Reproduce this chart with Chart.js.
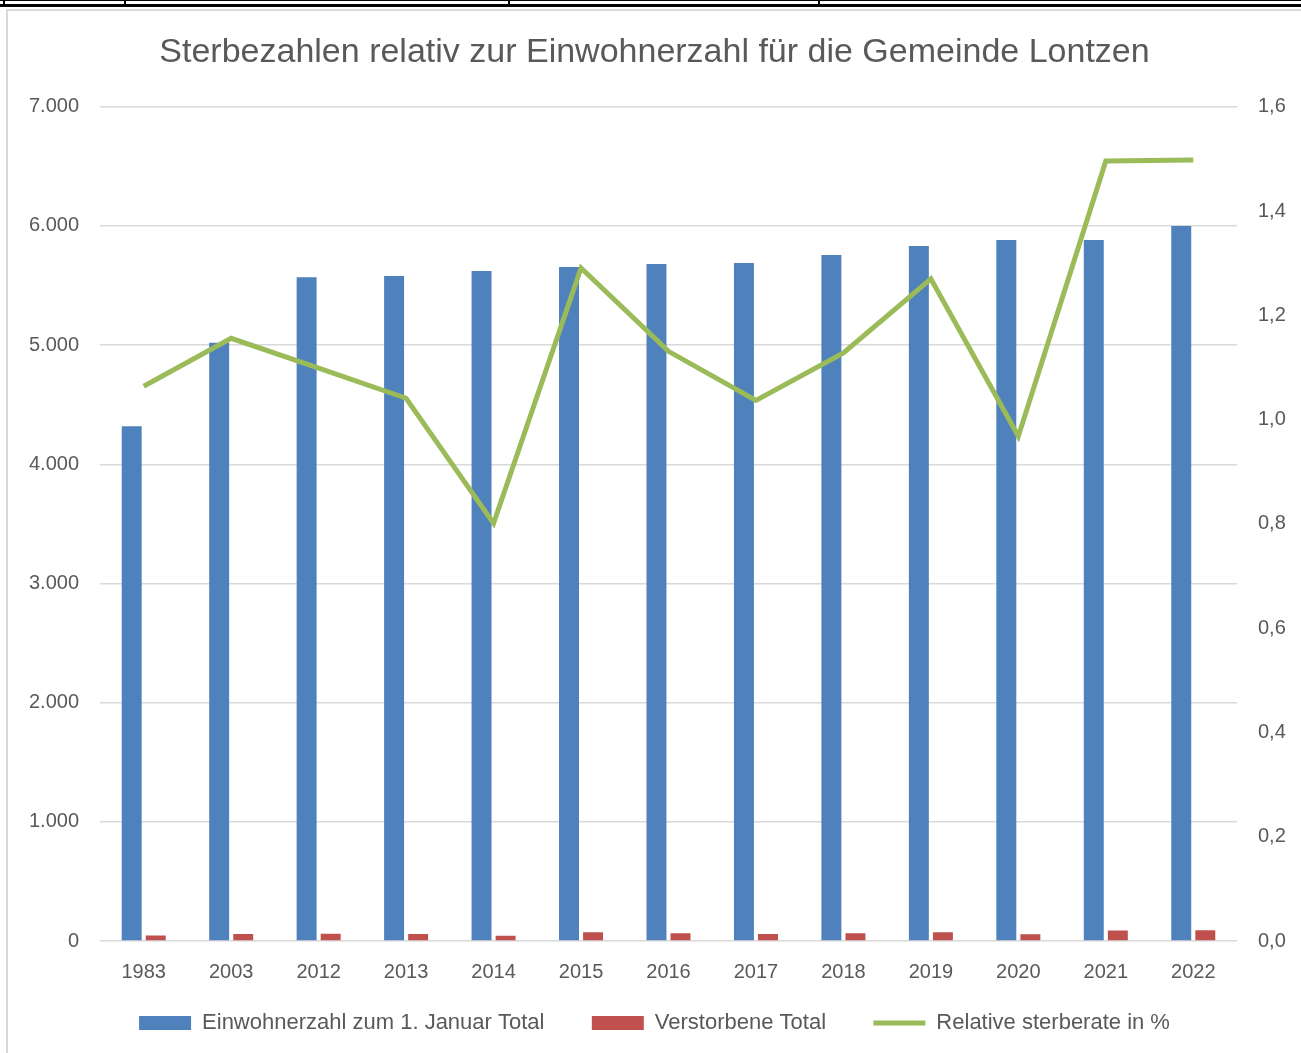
<!DOCTYPE html>
<html>
<head>
<meta charset="utf-8">
<script src="https://cdn.jsdelivr.net/npm/chart.js@4/dist/chart.umd.min.js"></script>
<style>
  html, body { margin: 0; padding: 0; background: #fff; }
  body { width: 1301px; height: 1053px; position: relative; overflow: hidden; }
  .tbl { position: absolute; left: 0; top: 0; width: 1301px; height: 3px; border-bottom: 3px solid #000; border-top: 1px solid #000; }
  .tbl i { position: absolute; top: -1px; width: 2px; height: 5px; background: #000; }
  .frame { position: absolute; left: 6px; top: 9px; width: 1295px; height: 1044px; border-left: 2px solid #d9d9d9; border-top: 2px solid #d9d9d9; }
  #wrap { position: absolute; left: 8px; top: 11px; width: 1293px; height: 1042px; }
</style>
</head>
<body>
<div class="tbl"><i style="left:3px"></i><i style="left:124px"></i><i style="left:508px"></i><i style="left:818px"></i></div>
<div class="frame"></div>
<div id="wrap"><canvas id="c"></canvas></div>
<script>
/* values */
const years = ["1983", "2003", "2012", "2013", "2014", "2015", "2016", "2017", "2018", "2019", "2020", "2021", "2022"];
const population = [4320, 5020, 5570, 5580, 5622, 5655, 5681, 5689, 5756, 5832, 5882, 5882, 6000];
const deaths = [46, 58, 61, 58, 45, 73, 64, 59, 65, 74, 57, 88, 90];
const deathRate = [1.064, 1.156, 1.099, 1.041, 0.801, 1.291, 1.131, 1.037, 1.128, 1.270, 0.968, 1.496, 1.498];

const font = "'Liberation Sans', Arial, sans-serif";
const textColor = "#595959";
const blue = "#4f81bd";
const red = "#c0504d";
const green = "#9bbb59";

const config = {
  type: "bar",
  data: {
    labels: years,
    datasets: [
      {
        type: "line",
        label: "Relative sterberate in %",
        data: deathRate,
        yAxisID: "y2",
        borderColor: green,
        borderWidth: 5,
        pointRadius: 0,
        tension: 0,
        order: 0,
      },
      {
        label: "Einwohnerzahl zum 1. Januar Total",
        data: population,
        yAxisID: "y",
        backgroundColor: blue,
        categoryPercentage: 0.55,
        barPercentage: 0.83,
        order: 1,
      },
      {
        label: "Verstorbene Total",
        data: deaths,
        yAxisID: "y",
        backgroundColor: red,
        categoryPercentage: 0.55,
        barPercentage: 0.83,
        order: 2,
      },
    ],
  },
  options: {
    responsive: true,
    maintainAspectRatio: false,
    animation: false,
    layout: { padding: { left: 0, right: 0, top: 0, bottom: 9 } },
    scales: {
      x: {
        grid: { display: false, drawTicks: false },
        border: { display: false },
        ticks: { color: textColor, font: { family: font, size: 20 }, padding: 19 },
        afterFit: (scale) => { scale.height = 42; },
      },
      y: {
        position: "left",
        min: 0,
        max: 7000,
        grid: { color: "#d9d9d9", lineWidth: 1.5, drawTicks: false },
        border: { display: false },
        ticks: {
          stepSize: 1000,
          color: textColor,
          font: { family: font, size: 20 },
          padding: 21,
          callback: (v) => v === 0 ? "0" : (v / 1000).toFixed(0) + ".000",
        },
        afterFit: (scale) => { scale.width = 92; },
      },
      y2: {
        position: "right",
        min: 0,
        max: 1.6,
        grid: { display: false, drawTicks: false },
        border: { display: false },
        ticks: {
          stepSize: 0.2,
          color: textColor,
          font: { family: font, size: 20 },
          padding: 21,
          callback: (v) => v.toFixed(1).replace(".", ","),
        },
        afterFit: (scale) => { scale.width = 64; },
      },
    },
    plugins: {
      title: {
        display: true,
        text: "Sterbezahlen relativ zur Einwohnerzahl für die Gemeinde Lontzen",
        color: textColor,
        font: { family: font, size: 34, weight: "normal" },
        padding: { top: 21, bottom: 34 },
      },
      legend: {
        position: "bottom",
        labels: {
          color: textColor,
          font: { family: font, size: 22 },
          usePointStyle: true,
          pointStyleWidth: 52,
          boxHeight: 14,
          padding: 29,
          generateLabels: (chart) => {
            const ds = chart.data.datasets;
            // trailing spaces only widen the gap between items
            return [1, 2, 0].map((i) => ({
              text: ds[i].label + (i === 0 ? "" : "   "),
              datasetIndex: i,
              fillStyle: ds[i].type === "line" ? green : ds[i].backgroundColor,
              strokeStyle: ds[i].type === "line" ? green : ds[i].backgroundColor,
              lineWidth: ds[i].type === "line" ? 5 : 0,
              pointStyle: ds[i].type === "line" ? "line" : "rect",
              fontColor: textColor,
              hidden: false,
            }));
          },
        },
      },
      tooltip: { enabled: false },
    },
  },
};

new Chart(document.getElementById("c"), config);
</script>
</body>
</html>
